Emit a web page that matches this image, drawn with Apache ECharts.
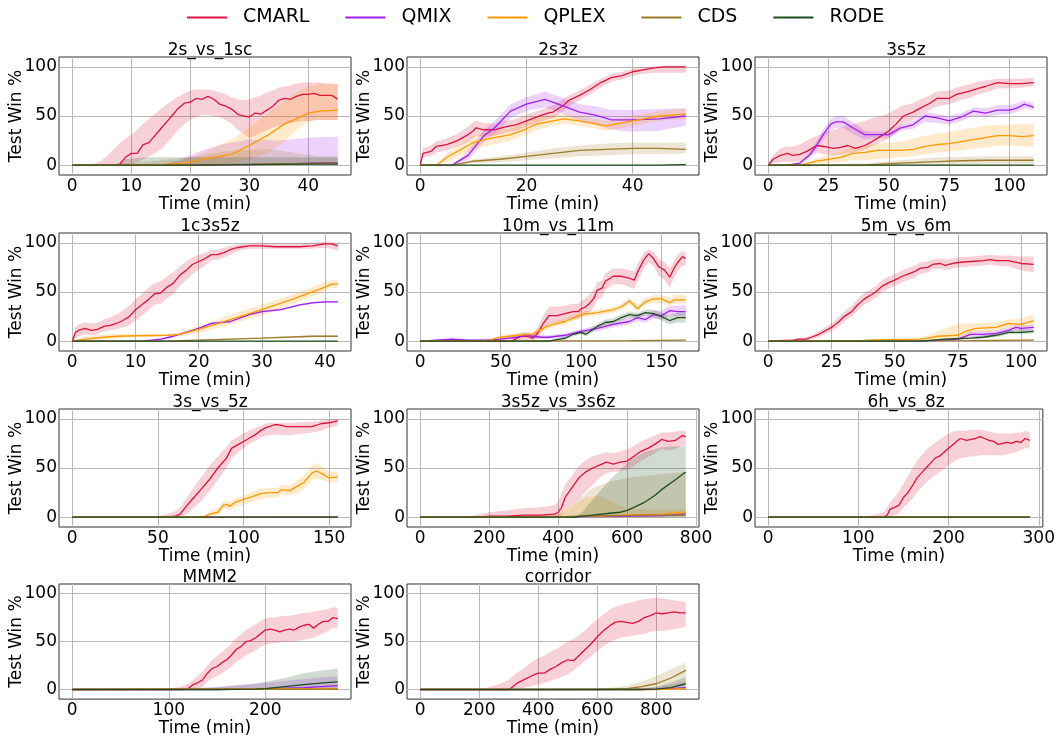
<!DOCTYPE html>
<html><head><meta charset="utf-8">
<script src="https://cdn.jsdelivr.net/npm/echarts@6/dist/echarts.min.js"></script>
<style>html,body{margin:0;padding:0;background:#fff}#c{width:1058px;height:738px}</style>
</head><body><div id="c"></div>
<script>
const ALGOS = ['CMARL', 'QMIX', 'QPLEX', 'CDS', 'RODE'];
const MAPS = ['2s_vs_1sc', '2s3z', '3s5z', '1c3s5z', '10m_vs_11m', '5m_vs_6m', '3s_vs_5z', '3s5z_vs_3s6z', '6h_vs_8z', 'MMM2', 'corridor'];
const X_MAX = [45, 50, 110, 42, 165, 105, 155, 770, 290, 275, 900];
const X_TICKS = [[0,10,20,30,40],[0,20,40],[0,25,50,75,100],[0,10,20,30,40],[0,50,100,150],[0,25,50,75,100],[0,50,100,150],[0,200,400,600,800],[0,100,200,300],[0,100,200],[0,200,400,600,800]];
const Y_TICKS = [0, 50, 100];

// rows: [time, mean, lower, upper]
// 2s_vs_1sc
const m1_CMARL = [[0,0,0,0],[2,0,0,0.5],[4,0,0,2],[5,0,0,5],[6,0,0,10],[7,0,0,16],[8,0.5,0,22],[9,8,0,27],[10,12,1,31],[11,12,3,36],[12,21,6,42],[13,23,9,47],[14,30,12,52],[15,37,16,57],[16,44,22,62],[17,51,29,66],[18,58,36,70],[19,63,42,73],[20,64,46,76],[21,68,49,77],[22,67,51,77],[23,70,51,77],[24,67,50,76],[25,62,49,74],[26,60,46,72],[27,57,42,69],[28,52,36,67],[29,50,32,66],[30,49,28,67],[31,53,30,69],[32,52,33,71],[33,56,36,74],[34,60,38,76],[35,66,40,79],[36,68,42,80],[37,67,43,81],[38,70,44,83],[39,72,45,84],[40,72,45,84],[41,73,46,84],[42,71,46,84],[43,71,46,83],[44,71,46,83],[45,67,46,82]];
const m1_QMIX = [[0,0,0,0],[15,0,0,0],[18,0,0,5],[20,0,0,10],[23,0,0,17],[26,0.5,0,22],[30,0.5,0,26],[35,1,0,25],[40,2,0,28],[43,2.5,0,29],[45,2.5,0,29]];
const m1_QPLEX = [[0,0,0,0],[10,0,0,0],[15,0.5,0,1],[18,1.5,0,4],[20,3,0,7],[22,6,0,12],[24,8,1,18],[27,11,2,26],[30,20,6,38],[33,30,12,52],[36,42,24,66],[38,47,36,74],[40,53,44,80],[42,55,46,83],[45,56,46,82]];
const m1_CDS = [[0,0,0,0],[10,0,0,2],[20,0,0,8],[26,0.5,0,14],[30,1,0,16],[34,1.5,0,16],[38,1.5,0,12],[42,2,0,9],[45,2,0,9]];
const m1_RODE = [[0,0,0,0],[7,0,0,0],[9,0,0,6],[12,0,0,8],[20,0,0,8],[30,0.5,0,8],[40,1,0,8],[45,1,0,8]];
// 2s3z
const m2_CMARL = [[0,0,0,0],[0.5,12,8,17],[2,14,9,20],[3,19,13,24],[5,21,15,27],[7,25,19,32],[9,31,24,39],[10,35,28,44],[10.5,38,30,45],[12,36,29,43],[14,36,30,42],[16,39,33,45],[18,41,35,47],[20,45,39,51],[22,49,43,55],[24,53,47,59],[25,54,48,61],[27,61,55,67],[28,66,60,71],[30,71,66,76],[32,77,72,82],[34,84,79,88],[36,89,85,93],[38,91,87,95],[40,95,91,98],[42,97,93,100],[44,99,94,100],[46,100,94,101],[48,100,94,101],[50,100,94,101]];
const m2_QMIX = [[0,0,0,0],[6,0,0,0],[9,10,5,15],[12,30,24,36],[14,38,32,45],[17,55,48,62],[20,62,55,69],[23.5,67,59,75],[26,62,54,70],[30,54,45,62],[33,51,41,60],[36,46,36,56],[40,46,34,56],[45,47,35,57],[50,50,40,58]];
const m2_QPLEX = [[0,0,0,0],[3,0,0,0],[5,8,3,12],[8,17,11,23],[10,23,16,30],[13,27,20,34],[17,31,25,37],[20,37,31,44],[22,42,36,49],[25,45,40,51],[27,47,42,52],[30,45,40,50],[35,40,35,45],[40,45,40,50],[45,50,45,55],[50,52,47,58]];
const m2_CDS = [[0,0,0,0],[6,0,0,0],[10,4,2,6],[15,6,3,9],[20,9,5,13],[25,12,7,17],[30,15,9,20],[35,16,10,22],[40,17,11,23],[45,17,11,23],[50,16,12,23]];
const m2_RODE = [[0,0,0,0],[45,0,0,0.5],[50,0.5,0,1]];
// 3s5z
const m3_CMARL = [[0,0,0,2],[2,6,2,10],[5,10,3,17],[8,12,4,19],[10,10,3,19],[13,11,4,21],[16,14,8,25],[20,20,13,30],[23,19,11,33],[27,17,10,36],[30,18,11,38],[33,20,12,40],[36,17,13,42],[40,20,16,45],[43,24,19,48],[47,30,24,50],[50,35,27,53],[53,42,33,57],[56,50,42,61],[60,54,46,63],[63,58,51,67],[67,63,56,71],[70,68,60,75],[75,68,62,76],[78,72,65,79],[83,75,68,82],[87,78,72,85],[90,80,74,86],[95,84,78,88],[100,83,78,88],[105,83,79,88],[110,84,80,89]];
const m3_QMIX = [[0,0,0,0],[8,0,0,0],[13,2,1,3],[17,10,7,13],[20,20,16,24],[23,32,27,37],[26,42,36,47],[28,44,38,50],[31,44,38,50],[35,38,32,44],[40,31,26,35],[45,31,28,34],[50,31,28,34],[55,38,35,41],[60,41,37,45],[65,50,44,54],[70,48,43,52],[75,45,41,50],[80,49,45,53],[85,55,50,59],[90,53,49,58],[95,56,51,61],[100,56,52,61],[103,58,54,63],[106,62,58,66],[110,59,56,63]];
const m3_QPLEX = [[0,0,0,0],[12,0,0,0],[15,1,0,2],[20,4,1,7],[25,6,2,10],[30,8,3,14],[35,12,5,18],[40,13,5,20],[45,15,6,22],[50,15,7,23],[55,15,8,24],[60,16,9,27],[65,19,11,30],[70,21,13,32],[75,22,14,34],[80,24,15,36],[85,26,17,38],[90,28,18,40],[95,30,20,41],[100,30,20,41],[105,29,19,42],[110,30,19,42]];
const m3_CDS = [[0,0,0,0],[40,0,0,2],[50,1.5,0,4],[60,2.5,0,6],[70,3.5,0,8],[80,4.5,1,8.5],[90,5,1.5,9],[110,5,1.5,9]];
const m3_RODE = [[0,0,0,0],[110,0,0,0.5]];
// 1c3s5z
const m4_CMARL = [[0,0,0,0],[0.5,9,3,14],[1,11,5,17],[2,13,7,19],[3,11,6,18],[4,12,7,19],[5,15,10,22],[6,16,11,24],[7,18,12,27],[8,21,14,31],[9,25,16,36],[10,32,21,43],[11,37,26,48],[12,42,31,54],[13,48,37,59],[14,49,38,61],[15,55,44,66],[16,59,48,70],[17,67,56,76],[18,72,62,81],[19,78,68,85],[20,81,73,88],[21,84,77,90],[22,88,82,93],[23,88,83,93],[24,90,85,95],[25,93,88,97],[26,95,91,98],[27,96,93,99],[28,97,94,99],[30,97,94,100],[32,96,94,99],[34,96,94,99],[36,96,94,99],[38,97,94,100],[40,99,95,101],[41,99,94,101],[42,97,92,100]];
const m4_QMIX = [[0,0,0,0],[11,0,0,0],[14,2,1,3],[16,5,4,6],[18,9,8,10],[20,13,12,14],[22,18,17,19],[25,20,19,21],[28,27,26,28],[30,30,29,31],[33,32,31,33],[36,37,36,38],[38,39,38,40],[40,40,39,41],[42,40,39,41]];
const m4_QPLEX = [[0,0,0,0],[2,2,0,5],[5,4,2,7],[7,5,3,7],[10,5.5,4,7],[15,6,5,7],[17,7,5,9],[20,12,8,15],[25,22,17,27],[30,32,26,37],[35,43,38,48],[40,55,51,60],[41,58,54,62],[42,58,54,62]];
const m4_CDS = [[0,0,0,0],[15,0,0,0.5],[20,1,0.5,1.5],[30,3,2.5,4],[38,5,4,6],[42,5,4,6]];
const m4_RODE = [[0,0,0,0],[42,0,0,0]];
// 10m_vs_11m
const m5_CMARL = [[0,0,0,0],[55,0,0,1],[57,0,0,2],[60,3,0,6],[63,5,1,9],[66,5,1,9],[70,3,0,8],[73,8,3,14],[76,17,10,25],[80,26,18,35],[85,26,19,35],[90,28,21,36],[95,30,22,38],[98,30,22,38],[100,33,25,41],[102,34,26,43],[105,38,29,47],[108,44,35,53],[110,52,42,60],[113,54,45,62],[115,61,52,69],[120,66,58,74],[125,66,58,74],[130,64,55,72],[133,62,53,71],[135,70,61,78],[139,83,74,90],[142,89,80,94],[145,84,76,91],[148,76,67,84],[152,72,62,80],[155,65,54,74],[158,75,65,83],[160,80,71,88],[163,86,77,92],[165,84,77,90]];
const m5_QMIX = [[0,0,0,0],[10,1,0,2],[20,2,1,3],[30,1,0,2],[40,1,0,2],[50,2,1,3],[60,4,2,6],[65,6,4,8],[70,5,3,7],[75,4,2,6],[80,4,2,6],[90,6,4,8],[100,10,8,12],[110,13,10,16],[120,17,14,20],[130,20,17,24],[135,24,20,28],[140,22,19,26],[145,27,23,31],[150,26,22,31],[155,31,26,36],[160,30,25,36],[165,30,25,37]];
const m5_QPLEX = [[0,0,0,0],[40,0,0,0.5],[50,4,2,6],[60,6,4,8],[70,7,4,9],[75,12,9,15],[80,16,13,19],[90,20,17,23],[100,27,24,30],[110,29,26,32],[120,32,29,35],[125,35,32,38],[130,41,37,44],[135,33,30,37],[140,40,37,44],[145,43,39,47],[150,43,39,47],[155,39,36,44],[158,42,38,47],[165,42,38,47]];
const m5_CDS = [[0,0,0,0],[130,0.5,0,1],[165,1,0.5,1.5]];
const m5_RODE = [[0,0,0,0],[80,0,0,0.5],[90,3,1,5],[95,7,5,9],[100,9,7,11],[103,7,5,10],[110,15,12,18],[115,19,16,22],[120,20,17,23],[125,24,21,27],[130,27,24,30],[135,26,23,29],[140,29,26,32],[145,28,24,32],[150,25,21,29],[155,21,17,26],[160,24,19,29],[165,24,19,29]];
// 5m_vs_6m
const m6_CMARL = [[0,0,0,1],[10,1,0,2],[12,2,1,3],[15,2,1,4],[17,4,2,6],[20,7,4,10],[25,14,10,18],[28,20,15,25],[30,25,20,30],[33,30,25,36],[35,36,30,42],[38,43,37,49],[40,46,40,52],[43,51,45,57],[45,56,50,62],[48,60,54,66],[50,62,56,68],[53,66,60,72],[55,68,62,74],[58,71,65,77],[60,74,68,80],[63,75,70,81],[65,78,73,83],[68,79,74,84],[70,77,72,83],[73,79,74,84],[75,80,75,85],[80,81,76,86],[85,82,77,87],[88,83,78,88],[90,82,77,87],[95,82,76,87],[100,79,72,86],[105,78,70,86]];
const m6_QMIX = [[0,0,0,0],[60,0,0,0.5],[70,1,0,2],[75,2,1,4],[80,7,4,10],[85,7,4,10],[90,8,5,11],[95,11,8,14],[98,14,11,17],[100,13,10,16],[105,14,11,17]];
const m6_QPLEX = [[0,0,0,0],[35,0,0,0.5],[40,1,0,2],[50,1.5,1,2.5],[60,2,1,3],[63,3,1,6],[67,5,2,10],[75,6,2,18],[78,10,5,18],[82,13,9,18],[90,14,10,19],[95,18,14,22],[100,17,13,23],[105,21,15,27]];
const m6_CDS = [[0,0,0,0],[80,0.5,0,1.5],[105,1,0,2]];
const m6_RODE = [[0,0,0,0],[60,0,0,0.5],[70,2,1,3],[80,3,2,4],[85,4,3,6],[90,6,4,8],[95,9,7,11],[100,9,7,12],[105,10,8,12]];
// 3s_vs_5z
const m7_CMARL = [[0,0,0,0],[50,0,0,1],[55,0,0,3],[60,1,0,6],[63,3,0,10],[67,12,3,20],[70,18,8,28],[75,28,16,40],[80,38,26,52],[85,50,38,62],[90,60,50,71],[93,70,60,78],[97,74,66,82],[100,77,70,85],[103,80,74,88],[107,84,78,91],[110,88,81,93],[113,91,83,95],[115,92,83,96],[118,94,84,96],[120,94,84,96],[125,92,83,96],[130,92,84,96],[140,92,86,97],[145,95,88,98],[150,96,91,99],[155,98,93,100]];
const m7_QMIX = [[0,0,0,0],[155,0,0,0]];
const m7_QPLEX = [[0,0,0,0],[75,0,0,0.5],[78,1,0,3],[80,3,0,6],[85,5,2,9],[88,12,8,16],[90,13,9,17],[92,11,7,16],[95,15,10,19],[100,18,13,22],[105,21,16,26],[110,24,18,29],[115,25,20,30],[120,25,20,30],[122,28,23,33],[127,27,22,32],[130,30,24,36],[135,35,28,42],[140,45,38,53],[143,47,39,55],[147,43,37,50],[150,40,35,46],[155,41,36,47]];
const m7_CDS = [[0,0,0,0],[155,0,0,0.5]];
const m7_RODE = [[0,0,0,0],[155,0,0,0]];
// 3s5z_vs_3s6z
const m8_CMARL = [[0,0,0,0],[150,0,0,1],[170,0,0,3],[200,1,0,5],[250,1,0,7],[300,2,0,9],[350,2,0,10],[390,3,0,12],[400,5,0,16],[410,10,2,24],[420,20,6,33],[440,30,12,42],[460,40,18,52],[480,46,26,58],[500,50,33,62],[520,53,40,64],[540,56,45,66],[560,54,46,65],[580,56,47,67],[600,57,48,69],[620,62,52,73],[640,67,57,77],[660,70,61,80],[680,74,65,83],[700,79,69,86],[720,77,68,86],[740,78,69,87],[760,83,73,88],[770,82,72,88]];
const m8_QMIX = [[0,0,0,0],[500,0.5,0,1.5],[700,1.5,0.5,3],[770,3,1.5,4]];
const m8_QPLEX = [[0,0,0,0],[400,0,0,3],[440,0.5,0,12],[480,1,0,20],[520,1,0,22],[560,1.5,0,15],[600,2,0,8],[700,3,0.5,8],[770,5,2,8]];
const m8_CDS = [[0,0,0,0],[400,0,0,2],[420,0.5,0,5],[460,1,0,18],[500,1,0,30],[550,1.5,0,36],[600,1.5,0,40],[650,2,0,42],[700,2,0,44],[770,2,0,46]];
const m8_RODE = [[0,0,0,0],[450,0,0,1],[470,1,0,5],[500,2,0,18],[550,4,0,38],[580,5,0,48],[600,7,0,55],[620,10,0,60],[650,15,0,66],[680,22,0,69],[700,28,0,71],[740,38,0,72],[770,46,0,72]];
// 6h_vs_8z
const m9_CMARL = [[0,0,0,0],[110,0,0,1],[120,0,0,3],[128,0,0,5],[132,2,0,10],[135,8,0,15],[140,10,2,20],[145,12,4,26],[150,20,10,34],[155,25,14,42],[160,32,19,50],[165,40,25,57],[170,45,30,63],[175,50,35,68],[180,55,39,72],[185,60,43,76],[190,62,46,79],[195,66,49,82],[200,70,53,85],[205,74,56,87],[210,78,59,88],[213,80,60,88],[220,78,61,88],[225,79,62,89],[230,80,62,89],[235,82,63,89],[240,80,63,88],[245,78,63,87],[250,77,63,86],[255,74,63,85],[260,75,63,85],[265,76,64,85],[270,75,65,85],[275,77,66,86],[280,76,68,86],[285,80,70,88],[290,78,70,86]];
const m9_QMIX = [[0,0,0,0],[290,0,0,0]];
const m9_QPLEX = [[0,0,0,0],[290,0,0,0]];
const m9_CDS = [[0,0,0,0],[290,0,0,0]];
const m9_RODE = [[0,0,0,0],[290,0,0,0]];
// MMM2
const m10_CMARL = [[0,0,0,0],[100,0,0,1],[112,0,0,3],[120,1,0,6],[125,5,0,10],[130,7,1,14],[135,10,3,19],[140,17,8,25],[145,22,12,31],[150,24,14,35],[155,28,17,39],[160,31,20,43],[165,36,24,48],[170,42,29,54],[175,45,32,58],[180,50,36,62],[185,51,38,65],[190,54,41,68],[195,58,44,71],[200,62,47,74],[205,63,48,75],[210,62,48,75],[215,60,49,76],[220,62,50,77],[225,63,50,77],[230,62,50,78],[235,65,51,79],[240,67,52,80],[245,68,53,80],[250,64,54,81],[255,68,56,82],[260,71,59,83],[265,71,61,84],[270,75,64,86],[275,74,65,85]];
const m10_QMIX = [[0,0,0,0],[130,0,0,1],[150,0,0,3],[200,1,0,7],[240,2,0,11],[275,4,0,14]];
const m10_QPLEX = [[0,0,0,0],[275,1,0,2]];
const m10_CDS = [[0,0,0,0],[275,0.5,0,1]];
const m10_RODE = [[0,0,0,0],[150,0,0,2],[190,0.5,0,6],[200,1,0,8],[220,3,0,12],[240,5,0,17],[260,7,0,20],[275,8,0,22]];
// corridor
const m11_CMARL = [[0,0,0,0],[200,0,0,0.5],[230,0,0,2],[260,0,0,5],[300,0,0,10],[310,2,0,13],[330,7,1,18],[350,10,2,22],[370,13,3,27],[390,16,5,31],[400,17,5,33],[420,17,7,35],[440,21,9,39],[460,24,11,42],[480,28,13,46],[500,31,16,50],[520,30,20,53],[540,36,25,57],[560,42,30,62],[580,48,35,68],[600,55,40,73],[620,61,45,78],[640,66,49,83],[660,70,52,86],[680,71,54,88],[700,70,55,90],[720,69,56,91],[740,71,57,93],[760,75,58,94],[780,77,60,95],[800,80,61,96],[820,79,61,95],[840,80,62,94],[860,81,63,93],[880,80,64,92],[900,80,65,91]];
const m11_QMIX = [[0,0,0,0],[750,0,0,1],[800,0.5,0,2],[850,1,0,5],[900,2,0,8]];
const m11_QPLEX = [[0,0,0,0],[800,0,0,1],[900,1,0,2]];
const m11_CDS = [[0,0,0,0],[600,0,0,1],[650,0.5,0,2],[700,1,0,4],[750,3,0,8],[800,6,0,14],[850,12,2,21],[900,20,8,28]];
const m11_RODE = [[0,0,0,0],[750,0,0,1],[800,0.5,0,3],[850,2,0,7],[900,6,0,13]];

const RUNS = [
  [m1_CMARL, m1_QMIX, m1_QPLEX, m1_CDS, m1_RODE],
  [m2_CMARL, m2_QMIX, m2_QPLEX, m2_CDS, m2_RODE],
  [m3_CMARL, m3_QMIX, m3_QPLEX, m3_CDS, m3_RODE],
  [m4_CMARL, m4_QMIX, m4_QPLEX, m4_CDS, m4_RODE],
  [m5_CMARL, m5_QMIX, m5_QPLEX, m5_CDS, m5_RODE],
  [m6_CMARL, m6_QMIX, m6_QPLEX, m6_CDS, m6_RODE],
  [m7_CMARL, m7_QMIX, m7_QPLEX, m7_CDS, m7_RODE],
  [m8_CMARL, m8_QMIX, m8_QPLEX, m8_CDS, m8_RODE],
  [m9_CMARL, m9_QMIX, m9_QPLEX, m9_CDS, m9_RODE],
  [m10_CMARL, m10_QMIX, m10_QPLEX, m10_CDS, m10_RODE],
  [m11_CMARL, m11_QMIX, m11_QPLEX, m11_CDS, m11_RODE]
];

const COLORS = ['#DC143C', '#A020F0', '#FF9900', '#9E7B2A', '#1E4D1E'];
const FONT = 'DejaVu Sans';
const COL_LEFT = [59, 407, 755];
const ROW_TOP = [57, 233, 409, 584];
const PW = 292, PH = 118;

const grids = [], xAxes = [], yAxes = [], titles = [], series = [];
MAPS.forEach((name, i) => {
  const col = i % 3, row = Math.floor(i / 3);
  const left = COL_LEFT[col], top = ROW_TOP[row];
  grids.push({left: left, top: top, width: PW, height: PH, show: true, borderColor: '#333', borderWidth: 1, backgroundColor: 'transparent'});
  titles.push({text: name, left: left + PW / 2, top: top - 20, textAlign: 'center',
    textStyle: {fontFamily: FONT, fontSize: 17, fontWeight: 'normal', color: '#000'}});
  const xm = X_MAX[i];
  xAxes.push({type: 'value', gridIndex: i, min: -0.05 * xm, max: 1.05 * xm,
    axisLine: {show: false, onZero: false},
    axisTick: {show: false, customValues: X_TICKS[i]},
    axisLabel: {customValues: X_TICKS[i], fontFamily: FONT, fontSize: 17, color: '#000', margin: 3, showMinLabel: true, showMaxLabel: true},
    splitLine: {show: true, lineStyle: {color: '#b8b8b8', width: 1}},
    name: 'Time (min)', nameLocation: 'middle', nameGap: 12,
    nameTextStyle: {fontFamily: FONT, fontSize: 17, color: '#000', verticalAlign: 'top'}
  });
  yAxes.push({type: 'value', gridIndex: i, min: -10, max: 110,
    axisLine: {show: false, onZero: false},
    axisTick: {show: false, customValues: Y_TICKS},
    axisLabel: {customValues: Y_TICKS, fontFamily: FONT, fontSize: 17, color: '#000', margin: 2},
    splitLine: {show: true, lineStyle: {color: '#b8b8b8', width: 1}},
    name: 'Test Win %', nameLocation: 'middle', nameGap: 34, nameRotate: 90, nameMoveOverlap: false,
    nameTextStyle: {fontFamily: FONT, fontSize: 17, color: '#000'}
  });
  RUNS[i].forEach((rows, a) => {
    const color = COLORS[a];
    series.push({
      type: 'custom', xAxisIndex: i, yAxisIndex: i, silent: true, z: 1, clip: true,
      data: rows.map(r => [r[0], r[2], r[3]]),
      encode: {x: 0, y: [1, 2]},
      renderItem: (params, api) => {
        if (params.dataIndex !== 0) return null;
        const pts = [];
        for (let k = 0; k < rows.length; k++) pts.push(api.coord([rows[k][0], rows[k][3]]));
        for (let k = rows.length - 1; k >= 0; k--) pts.push(api.coord([rows[k][0], rows[k][2]]));
        return {type: 'polygon', shape: {points: pts}, style: {fill: color, opacity: 0.2}};
      }
    });
    series.push({
      type: 'line', name: ALGOS[a], xAxisIndex: i, yAxisIndex: i, z: 3,
      data: rows.map(r => [r[0], r[1]]),
      showSymbol: false, symbol: 'none', clip: true,
      lineStyle: {color: color, width: 1.3}, itemStyle: {color: color}
    });
  });
});

const chart = echarts.init(document.getElementById('c'), null, {renderer: 'canvas'});
chart.setOption({
  animation: false,
  backgroundColor: '#fff',
  title: titles,
  legend: {data: ALGOS, top: 3, left: 182, icon: 'rect', itemWidth: 40, itemHeight: 2, itemGap: 36,
    textStyle: {fontFamily: FONT, fontSize: 19, color: '#000', padding: [0, 0, 0, 11]}},
  grid: grids, xAxis: xAxes, yAxis: yAxes, series: series
});
</script></body></html>
